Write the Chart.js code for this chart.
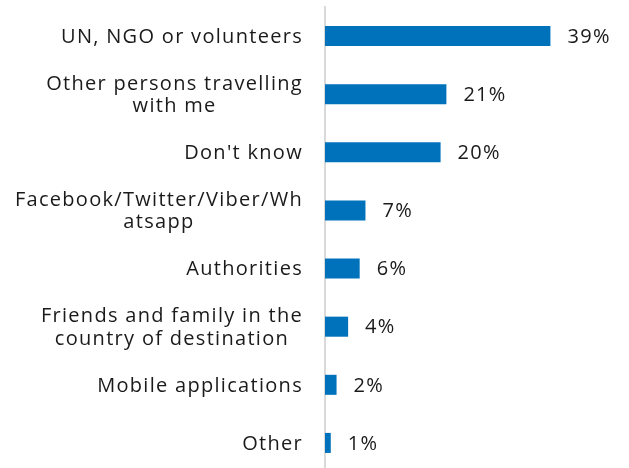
<!DOCTYPE html>
<html>
<head>
<meta charset="utf-8">
<script src="https://cdn.jsdelivr.net/npm/chart.js@4/dist/chart.umd.min.js"></script>
<style>
  html, body { margin: 0; padding: 0; background: #fff; overflow: hidden; }
  #wrap { width: 629px; height: 472px; }
</style>
</head>
<body>
<div id="wrap"><canvas id="myChart"></canvas></div>
<script>
var categories = [
    'UN, NGO or volunteers',
    ['Other persons travelling', 'with me'],
    "Don't know",
    ['Facebook/Twitter/Viber/Wh', 'atsapp'],
    'Authorities',
    ['Friends and family in the', 'country of destination'],
    'Mobile applications',
    'Other'
];
var shares = [39, 21, 20, 7, 6, 4, 2, 1];

var textFont = "'Open Sans'";
var tracking = '1.3px';
var textColor = '#1a1a1a';

// category names: the block is right-aligned against the axis,
// wrapped lines are centred inside the block
var categoryLabels = {
    id: 'categoryLabels',
    afterDraw: function (chart) {
        var ctx = chart.ctx;
        var yScale = chart.scales.y;
        var right = yScale.right - 22;
        var lineH = 22.5;
        ctx.save();
        ctx.letterSpacing = tracking;
        ctx.font = '20px ' + textFont;
        ctx.fillStyle = textColor;
        ctx.textBaseline = 'middle';
        ctx.textAlign = 'center';
        categories.forEach(function (cat, i) {
            var lines = Array.isArray(cat) ? cat : [cat];
            var widest = 0;
            lines.forEach(function (l) { widest = Math.max(widest, ctx.measureText(l).width); });
            var cx = right - widest / 2;
            var y0 = yScale.getPixelForTick(i) - (lines.length - 1) * lineH / 2 + 1;
            lines.forEach(function (l, k) {
                ctx.fillText(l, cx, y0 + k * lineH);
            });
        });
        ctx.restore();
    }
};

// writes "NN%" just past the end of each bar
var valueLabels = {
    id: 'valueLabels',
    afterDatasetsDraw: function (chart) {
        var ctx = chart.ctx;
        var meta = chart.getDatasetMeta(0);
        ctx.save();
        ctx.letterSpacing = tracking;
        ctx.font = '20px ' + textFont;
        ctx.fillStyle = textColor;
        ctx.textBaseline = 'middle';
        ctx.textAlign = 'left';
        meta.data.forEach(function (bar, i) {
            ctx.fillText(shares[i] + '%', bar.x + 17, bar.y + 1);
        });
        ctx.restore();
    }
};

var ctx = document.getElementById('myChart').getContext('2d');
var myChart = new Chart(ctx, {
    type: 'bar',
    data: {
        labels: categories,
        datasets: [{
            data: shares,
            backgroundColor: '#0072bc',
            barPercentage: 0.345,
            categoryPercentage: 1
        }]
    },
    options: {
        indexAxis: 'y',
        responsive: true,
        maintainAspectRatio: false,
        animation: false,
        layout: { padding: { top: 7, right: 15, bottom: 0, left: 0 } },
        plugins: {
            legend: { display: false },
            tooltip: { enabled: false }
        },
        scales: {
            x: {
                display: false,
                min: 0,
                max: 50
            },
            y: {
                afterFit: function (scale) {
                    scale.width = 325;
                    scale.paddingTop = 0;
                    scale.paddingBottom = 0;
                },
                grid: { display: false, drawTicks: false },
                border: { color: '#d9d9d9', width: 2 },
                ticks: { display: false }
            }
        }
    },
    plugins: [categoryLabels, valueLabels]
});
</script>
</body>
</html>
